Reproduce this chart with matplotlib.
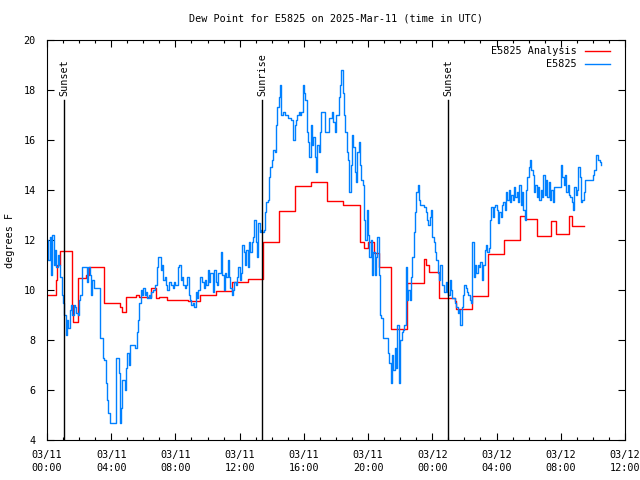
import matplotlib
matplotlib.use('Agg')
import matplotlib.pyplot as plt
import numpy as np

# hours since 2025-03-11 00:00 UTC
obs = [
    (0.0, 12.0), (0.08, 11.2), (0.17, 12.1), (0.25, 10.6), (0.33, 12.2), (0.42, 11.0),
    (0.5, 11.6), (0.58, 10.9), (0.67, 11.4), (0.75, 11.0), (0.83, 10.5), (0.92, 9.8),
    (1.0, 9.5), (1.08, 9.0), (1.17, 8.2), (1.25, 8.8), (1.33, 8.5), (1.42, 9.2),
    (1.5, 9.4), (1.58, 9.0), (1.67, 9.4), (1.75, 9.3), (1.83, 9.1), (1.92, 9.0),
    (2.0, 9.6), (2.08, 9.8), (2.17, 10.9), (2.33, 10.9), (2.5, 10.3), (2.58, 10.9),
    (2.67, 10.6), (2.75, 9.8), (2.83, 10.4), (2.92, 10.1), (3.17, 10.1), (3.33, 8.1),
    (3.5, 7.3), (3.58, 7.2), (3.67, 6.3), (3.75, 5.6), (3.83, 5.1), (3.92, 4.7),
    (4.3, 7.3), (4.47, 6.7), (4.55, 4.7), (4.62, 5.3), (4.7, 6.4), (4.83, 6.0),
    (4.92, 6.9), (5.0, 7.5), (5.08, 7.0), (5.17, 7.8), (5.5, 7.7), (5.58, 8.3),
    (5.67, 8.8), (5.75, 9.5), (5.83, 10.0), (5.92, 9.8),
    (6.0, 10.1), (6.08, 9.8), (6.17, 9.9), (6.25, 9.7), (6.33, 9.8), (6.42, 9.7),
    (6.5, 9.9), (6.58, 10.0), (6.67, 10.0), (6.75, 10.2), (6.83, 10.9), (6.92, 11.3),
    (7.0, 11.3), (7.08, 10.8), (7.17, 11.0), (7.25, 10.4), (7.33, 10.5), (7.42, 10.2),
    (7.5, 10.0), (7.58, 10.3), (7.67, 10.3), (7.75, 10.2), (7.83, 10.1), (7.92, 10.3),
    (8.0, 10.2), (8.08, 10.2), (8.17, 10.9), (8.25, 11.0), (8.33, 10.4), (8.42, 10.5),
    (8.5, 10.2), (8.58, 10.1), (8.67, 10.2), (8.75, 10.5), (8.83, 9.8), (8.92, 9.6),
    (9.0, 9.4), (9.08, 9.5), (9.17, 9.3), (9.25, 9.9), (9.33, 9.7), (9.42, 10.0),
    (9.5, 10.5), (9.58, 10.5), (9.67, 10.3), (9.75, 10.1), (9.83, 10.4), (9.92, 10.2),
    (10.0, 10.8), (10.08, 10.3), (10.17, 10.7), (10.25, 10.7), (10.33, 9.9), (10.42, 10.8),
    (10.5, 10.3), (10.58, 10.2), (10.67, 10.7), (10.75, 10.7), (10.83, 11.5), (10.92, 10.6),
    (11.0, 10.0), (11.08, 10.7), (11.17, 10.5), (11.25, 11.2), (11.33, 10.5), (11.42, 10.1),
    (11.5, 9.8), (11.58, 10.0), (11.67, 10.3), (11.75, 10.2), (11.83, 10.5), (11.92, 10.9),
    (12.0, 10.4), (12.08, 10.7), (12.17, 11.8), (12.25, 11.5), (12.33, 11.0), (12.42, 11.6),
    (12.5, 10.9), (12.58, 11.9), (12.67, 11.5), (12.75, 11.9), (12.83, 12.1), (12.92, 12.8),
    (13.0, 11.9), (13.08, 11.3), (13.17, 12.7), (13.25, 12.3), (13.33, 12.4), (13.42, 12.3),
    (13.5, 12.4), (13.58, 13.1), (13.67, 13.5), (13.75, 13.6), (13.83, 14.5), (13.92, 14.9),
    (14.0, 15.2), (14.08, 15.6), (14.17, 15.5), (14.25, 16.6), (14.33, 17.3), (14.42, 17.7),
    (14.5, 18.2), (14.58, 17.0), (14.67, 17.1), (14.75, 17.1), (14.83, 17.0), (14.92, 17.0),
    (15.0, 16.9), (15.08, 16.9), (15.17, 16.8), (15.25, 16.8), (15.33, 16.0), (15.42, 16.6),
    (15.5, 16.8), (15.58, 17.0), (15.67, 17.1), (15.75, 17.0), (15.83, 17.1), (15.92, 18.2),
    (16.0, 17.9), (16.08, 17.6), (16.17, 16.3), (16.25, 15.9), (16.33, 15.3), (16.42, 16.6),
    (16.5, 15.8), (16.58, 16.1), (16.67, 15.3), (16.75, 14.7), (16.83, 15.8), (16.92, 15.5),
    (17.0, 16.3), (17.08, 17.1), (17.17, 17.1), (17.25, 17.1), (17.33, 16.3), (17.42, 16.3),
    (17.5, 16.3), (17.58, 16.9), (17.67, 16.9), (17.75, 17.1), (17.83, 16.7), (17.92, 16.3),
    (18.0, 17.0), (18.08, 17.0), (18.17, 17.7), (18.25, 18.2), (18.33, 18.8), (18.42, 17.9),
    (18.5, 17.0), (18.58, 16.3), (18.67, 15.5), (18.75, 15.2), (18.83, 13.9), (18.92, 15.0),
    (19.0, 16.2), (19.08, 15.7), (19.17, 14.7), (19.25, 14.3), (19.33, 15.5), (19.42, 15.9),
    (19.5, 15.0), (19.58, 14.4), (19.67, 14.2), (19.75, 12.8), (19.83, 12.0), (19.92, 13.2),
    (20.0, 12.2), (20.08, 11.3), (20.17, 12.0), (20.25, 10.6), (20.33, 11.5), (20.42, 10.6),
    (20.5, 11.3), (20.58, 12.1), (20.67, 10.6), (20.75, 9.0), (20.83, 8.9), (20.92, 8.1),
    (21.25, 7.5), (21.33, 7.1), (21.42, 6.3), (21.5, 7.4), (21.58, 6.8), (21.67, 7.7),
    (21.75, 6.9), (21.83, 8.6), (21.92, 6.3), (22.0, 8.0), (22.08, 8.3), (22.17, 8.4),
    (22.25, 8.6), (22.33, 10.9), (22.42, 9.6), (22.5, 10.0), (22.58, 9.6), (22.67, 10.5),
    (22.75, 11.3), (22.83, 12.3), (22.92, 13.1), (23.0, 13.9), (23.08, 14.2), (23.17, 13.6),
    (23.25, 13.4), (23.5, 13.3), (23.58, 13.1), (23.67, 12.8), (23.75, 12.6), (23.83, 12.9),
    (23.92, 13.2), (24.0, 12.1), (24.08, 11.9), (24.17, 11.5), (24.25, 11.2), (24.33, 10.7),
    (24.42, 10.4), (24.5, 11.0), (24.58, 10.2), (24.67, 10.2), (24.75, 9.9), (24.83, 10.3),
    (24.92, 9.9), (25.0, 9.8), (25.08, 10.4), (25.17, 10.0), (25.25, 9.7), (25.33, 9.7),
    (25.42, 9.5), (25.5, 9.3), (25.58, 9.1), (25.67, 9.2), (25.75, 8.6), (25.83, 9.3),
    (25.92, 9.8), (26.0, 10.2), (26.08, 10.1), (26.17, 9.9), (26.25, 9.8), (26.33, 9.6),
    (26.42, 9.5), (26.5, 11.9), (26.58, 10.5), (26.67, 11.0), (26.75, 10.7), (26.83, 11.0),
    (26.92, 10.9), (27.0, 11.1), (27.08, 10.4), (27.17, 11.0), (27.25, 11.6), (27.33, 11.8),
    (27.42, 11.5), (27.5, 11.7), (27.58, 12.8), (27.67, 13.3), (27.75, 12.9), (27.83, 13.3),
    (27.92, 13.4), (28.0, 13.2), (28.08, 12.7), (28.17, 13.1), (28.25, 12.9), (28.33, 13.4),
    (28.42, 13.5), (28.5, 13.2), (28.58, 13.9), (28.67, 13.6), (28.75, 14.0), (28.83, 13.5),
    (28.92, 13.8), (29.0, 13.6), (29.08, 14.1), (29.17, 13.7), (29.25, 13.9), (29.33, 13.5),
    (29.42, 14.2), (29.5, 13.4), (29.58, 13.9), (29.67, 13.2), (29.75, 12.8), (29.83, 14.0),
    (29.92, 14.5), (30.0, 14.9), (30.08, 15.2), (30.17, 14.8), (30.25, 14.6), (30.33, 13.9),
    (30.42, 14.2), (30.5, 13.7), (30.58, 14.1), (30.67, 13.6), (30.75, 14.0), (30.83, 13.7),
    (30.92, 14.6), (31.0, 13.8), (31.08, 14.4), (31.17, 13.7), (31.25, 14.3), (31.33, 13.6),
    (31.42, 14.0), (31.5, 13.5), (31.58, 14.1), (32.0, 15.0), (32.08, 14.5), (32.17, 14.2),
    (32.25, 14.6), (32.33, 13.9), (32.42, 14.2), (32.5, 13.8), (32.58, 13.7), (32.67, 13.5),
    (32.75, 13.2), (32.83, 14.1), (32.92, 13.8), (33.0, 14.0), (33.08, 14.9), (33.17, 14.5),
    (33.25, 13.5), (33.33, 13.6), (33.42, 13.9), (33.5, 14.4), (34.0, 14.6), (34.08, 14.8),
    (34.17, 15.4), (34.25, 15.4), (34.33, 15.2), (34.42, 15.1), (34.5, 15.0),
]

analysis = [
    (0.0, 9.8), (0.54, 10.4), (0.65, 11.0), (0.8, 11.55), (1.54, 9.4), (1.64, 8.73),
    (1.95, 10.48), (2.45, 10.6), (2.6, 10.93), (3.55, 9.47), (4.55, 9.3), (4.7, 9.12),
    (4.9, 9.72), (5.55, 9.8), (5.75, 9.72), (6.5, 10.08), (6.8, 9.68), (7.0, 9.72),
    (7.5, 9.6), (8.8, 9.57), (9.5, 9.8), (10.5, 9.97), (11.5, 10.33), (12.5, 10.44),
    (13.45, 11.9), (14.45, 13.16), (15.45, 14.16), (16.45, 14.33), (17.45, 13.56),
    (18.45, 13.4), (19.5, 11.93), (19.75, 11.68), (20.0, 11.92), (20.35, 11.48),
    (20.7, 10.93), (21.45, 8.44), (22.45, 10.27), (23.45, 11.24), (23.6, 11.0),
    (23.8, 10.73), (24.4, 9.67), (25.4, 9.56), (25.5, 9.24), (26.45, 9.77),
    (27.45, 11.44), (28.45, 12.0), (29.45, 12.96), (29.75, 12.84), (30.5, 12.16),
    (31.4, 12.77), (31.7, 12.23), (32.5, 12.97), (32.7, 12.56), (33.45, 12.56),
]

events = ['Sunset', 'Sunrise', 'Sunset']
event_hours = [1.06, 13.4, 25.0]

tick_hours = [0, 4, 8, 12, 16, 20, 24, 28, 32, 36]
tick_labels = ['03/11\n00:00', '03/11\n04:00', '03/11\n08:00', '03/11\n12:00',
               '03/11\n16:00', '03/11\n20:00', '03/12\n00:00', '03/12\n04:00',
               '03/12\n08:00', '03/12\n12:00']

plt.rcParams['font.family'] = 'DejaVu Sans Mono'
plt.rcParams['font.size'] = 7.3

fig = plt.figure(figsize=(6.4, 4.8), dpi=100)
ax = fig.add_axes([47 / 640, 40 / 480, 578 / 640, 400 / 480])

ax_h, ax_v = zip(*analysis)
ob_h, ob_v = zip(*obs)
ax.plot(ax_h, ax_v, color='#ff0000', lw=1.0, drawstyle='steps-post', label='E5825 Analysis')
ax.plot(ob_h, ob_v, color='#0080ff', lw=1.0, drawstyle='steps-post', label='E5825')

for name, h in zip(events, event_hours):
    ax.plot([h, h], [4, 17.6], color='black', lw=1.0)
    ax.text(h, 17.75, name, rotation=90, ha='center', va='bottom', fontsize=7.3)

ax.set_xlim(0, 36)
ax.set_ylim(4, 20)
ax.set_xticks(tick_hours)
ax.set_xticklabels(tick_labels, linespacing=1.35)
ax.set_xticks(np.arange(0, 37, 1), minor=True)
ax.set_yticks(np.arange(4, 21, 2))
ax.tick_params(which='both', direction='in', top=True, right=True, width=0.8)
ax.tick_params(which='major', length=5, pad=7)
ax.tick_params(which='minor', length=2.5)
ax.tick_params(axis='y', pad=8)
for s in ax.spines.values():
    s.set_linewidth(0.8)

ax.set_ylabel('degrees F', labelpad=6)
plt.title('Dew Point for E5825 on 2025-Mar-11 (time in UTC)', fontsize=7.3, pad=13)
ax.legend(loc='upper right', frameon=False, markerfirst=False, handlelength=2.5,
          fontsize=7.3, borderaxespad=0.4, borderpad=0.2, labelspacing=0.3,
          handletextpad=0.8, bbox_to_anchor=(0.985, 1.0))

plt.savefig('out.png', dpi=100)
